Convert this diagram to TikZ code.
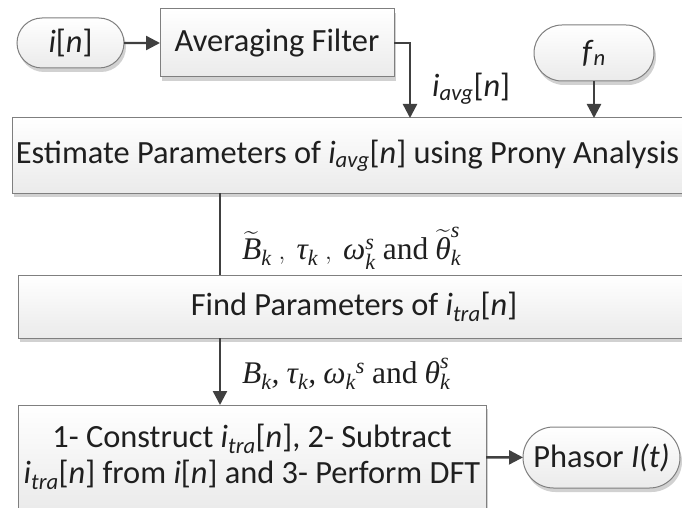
\documentclass[tikz,border=0pt]{standalone}
\usepackage{fontspec}
\usepackage{amsmath}
\setmainfont{Carlito}
\newfontfamily\lser{Liberation Serif}
\usetikzlibrary{arrows.meta,shadows,shapes.misc}

\definecolor{ink}{HTML}{1F1F1F}
\definecolor{edge}{HTML}{7F7F7F}
\definecolor{flowc}{HTML}{404040}

% serif italic symbols used in the parameter labels
\newcommand\mv[1]{\text{\lser\itshape #1}}
\newcommand\iavg{\textit{i}\textsubscript{\textit{avg}}[\textit{n}]}
\newcommand\itra{\textit{i}\textsubscript{\textit{tra}}[\textit{n}]}

\begin{document}
\begin{tikzpicture}[x=1pt,y=-1pt,
  txt/.style={font=\fontsize{32.4}{36}\selectfont, text=ink},
  mathlbl/.style={font=\fontsize{31.5}{36}\selectfont, text=ink, inner sep=0pt},
  procbox/.style={draw=edge, line width=1pt, top color=white, bottom color=black!8,
    inner sep=0pt, outer sep=0pt, txt, align=center,
    drop shadow={shadow xshift=2pt, shadow yshift=-4pt, opacity=0.18, fill=black}},
  term/.style={procbox, rounded rectangle},
  flow/.style={draw=flowc, line width=2.4pt, -{Triangle[length=14pt,width=14pt]}},
  link/.style={draw=flowc, line width=2.4pt},
]
\useasboundingbox (0,0) rectangle (682,508);

% blocks
\node[term, minimum width=107, minimum height=50] (iin) at (70.5,43) {\textit{i}[\textit{n}]};
\node[procbox, minimum width=234, minimum height=68] (avg) at (277,43) {Averaging Filter};
\node[term, minimum width=120, minimum height=56] (fn) at (594,53) {\textit{f}\textsubscript{\textit{n}}};
\node[procbox, minimum width=671, minimum height=75] (est) at (347.5,155.5)
  {Estimate Parameters of \iavg\ using Prony Analysis};
\node[procbox, minimum width=672, minimum height=63] (find) at (354,306.5)
  {Find Parameters of \itra};
\node[procbox, minimum width=468, minimum height=104] (cons) at (252,457)
  {1- Construct \itra, 2- Subtract\\ \itra\ from \textit{i}[\textit{n}] and 3- Perform DFT};
\node[term, minimum width=157, minimum height=61] (ph) at (601.5,457.5) {Phasor \textit{I(t)}};

% connectors
\coordinate (avgin) at (410,118);
\coordinate (tap) at (220,193);
\draw[flow] (iin) -- (avg);
\draw[flow] (avg.east) -| (avgin);
\draw[flow] (fn) -- (fn |- est.north);
\draw[link] (tap) -- (tap |- find.north);
\draw[flow] (find.south -| tap) -- (cons.north -| tap);
\draw[flow] (cons) -- (ph);

% labels
\node[txt, anchor=base west, inner sep=0pt] (lavg) at (432,97) {\iavg};
\node[mathlbl, anchor=base west] (lab1) at (242,259)
  {$\widetilde{\mv{B}}_{\mv{k}}\;,\ \mv{τ}_{\mv{k}}\;,\ \mv{ω}^{\mv{s}}_{\mv{k}}$ {\lser and} $\widetilde{\mv{θ}}^{\mv{s}}_{\mv{k}}$};
\node[mathlbl, anchor=base west] (lab2) at (242,383)
  {$\mv{B}_{\mv{k}}\mv{,}\ \mv{τ}_{\mv{k}}\mv{,}\ \mv{ω}_{\mv{k}}{}^{\mv{s}}$ {\lser and} $\mv{θ}^{\mv{s}}_{\mv{k}}$};
\end{tikzpicture}
\end{document}
